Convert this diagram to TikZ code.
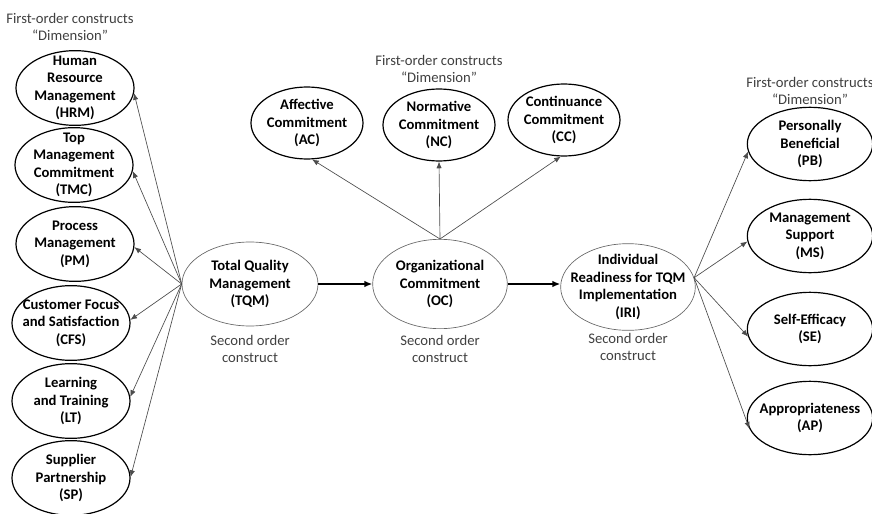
\documentclass[tikz,border=0pt]{standalone}
\usepackage{fontspec}
\setmainfont{Carlito}
\usetikzlibrary{shapes.geometric,arrows.meta}
\begin{document}
\begin{tikzpicture}[x=0.75pt,y=-0.75pt,
  intext/.style={align=center,inner sep=0pt,font=\fontsize{11}{13.1}\selectfont\bfseries},
  firstord/.style={ellipse,draw=black,line width=0.9pt,inner sep=0pt},
  secord/.style={ellipse,draw=black!60,line width=0.5pt,inner sep=0pt},
  leftbox/.style={firstord,minimum width=88.5pt,minimum height=56pt},
  topbox/.style={firstord,minimum width=84pt,minimum height=54pt},
  rightbox/.style={firstord,minimum width=94pt,minimum height=55pt},
  note/.style={align=center,text=black!75,font=\fontsize{11}{13}\selectfont},
  spoke/.style={draw=black!70,line width=0.5pt,-{Latex[length=5pt,width=4pt]}},
  mainarrow/.style={draw=black,line width=1.3pt,-{Latex[length=6pt,width=5pt]}}]
\useasboundingbox (0,0) rectangle (872,514);

% labels
\node[note] (lblL) at (70,27) {First-order constructs\\“Dimension”};
\node[note] (lblT) at (439,69) {First-order constructs\\“Dimension”};
\node[note] (lblR) at (810,91) {First-order constructs\\“Dimension”};

% left first-order
\node[leftbox,label={[intext]center:Human\\Resource\\Management\\(HRM)}] (HRM) at (75,88) {};
\node[leftbox,label={[intext]center:Top\\Management\\Commitment\\(TMC)}] (TMC) at (74,165) {};
\node[leftbox,label={[intext]center:Process\\Management\\(PM)}] (PM) at (75,244) {};
\node[leftbox,label={[intext]center:Customer Focus\\and Satisfaction\\(CFS)}] (CFS) at (71,323) {};
\node[leftbox,label={[intext]center:Learning\\and Training\\(LT)}] (LT) at (71,401) {};
\node[leftbox,label={[intext]center:Supplier\\Partnership\\(SP)}] (SP) at (71,478) {};

% top first-order
\node[topbox,label={[intext]center:Affective\\Commitment\\(AC)}] (AC) at (307,123) {};
\node[topbox,label={[intext]center:Normative\\Commitment\\(NC)}] (NC) at (439,125) {};
\node[topbox,label={[intext]center:Continuance\\Commitment\\(CC)}] (CC) at (564,120) {};

% right first-order
\node[rightbox,label={[intext]center:Personally\\Beneficial\\(PB)}] (PB) at (810,144) {};
\node[rightbox,label={[intext]center:Management\\Support\\(MS)}] (MS) at (810,236) {};
\node[rightbox,label={[intext]center:Self-Efficacy\\(SE)}] (SE) at (810,329) {};
\node[rightbox,label={[intext]center:Appropriateness\\(AP)}] (AP) at (810,418) {};

% second order
\node[secord,minimum width=102pt,minimum height=63pt,label={[intext]center:Total Quality\\Management\\(TQM)}] (TQM) at (250,284) {};
\node[secord,minimum width=101pt,minimum height=67pt,label={[intext]center:Organizational\\Commitment\\(OC)}] (OC) at (440,284) {};
\node[secord,minimum width=101pt,minimum height=65pt,label={[intext]center:Individual\\Readiness for TQM\\Implementation\\(IRI)}] (IRI) at (628,287) {};

\node[note] (sTQM) at (250,349) {Second order\\construct};
\node[note] (sOC) at (440,349) {Second order\\construct};
\node[note] (sIRI) at (628,347) {Second order\\construct};

% main chain
\draw[mainarrow] (TQM) -- (OC);
\draw[mainarrow] (OC.east) -- (IRI.west |- OC.east);

% left spokes
\draw[spoke] (TQM.west) -- (HRM.-5);
\draw[spoke] (TQM.west) -- (TMC.-6);
\draw[spoke] (TQM.west) -- (PM.-3);
\draw[spoke] (TQM.west) -- (CFS.3);
\draw[spoke] (TQM.west) -- (LT.4);
\draw[spoke] (TQM.west) -- (SP.1);

% top spokes
\draw[spoke] (OC.north) -- (AC.-82);
\draw[spoke] (OC.north) -- (NC.south);
\draw[spoke] (OC.north) -- (CC.-95);

% right spokes
\draw[spoke] (IRI.8) -- (PB.187);
\draw[spoke] (IRI.8) -- (MS.185);
\draw[spoke] (IRI.8) -- (SE.187);
\draw[spoke] (IRI.8) -- (AP.190);
\end{tikzpicture}
\end{document}
